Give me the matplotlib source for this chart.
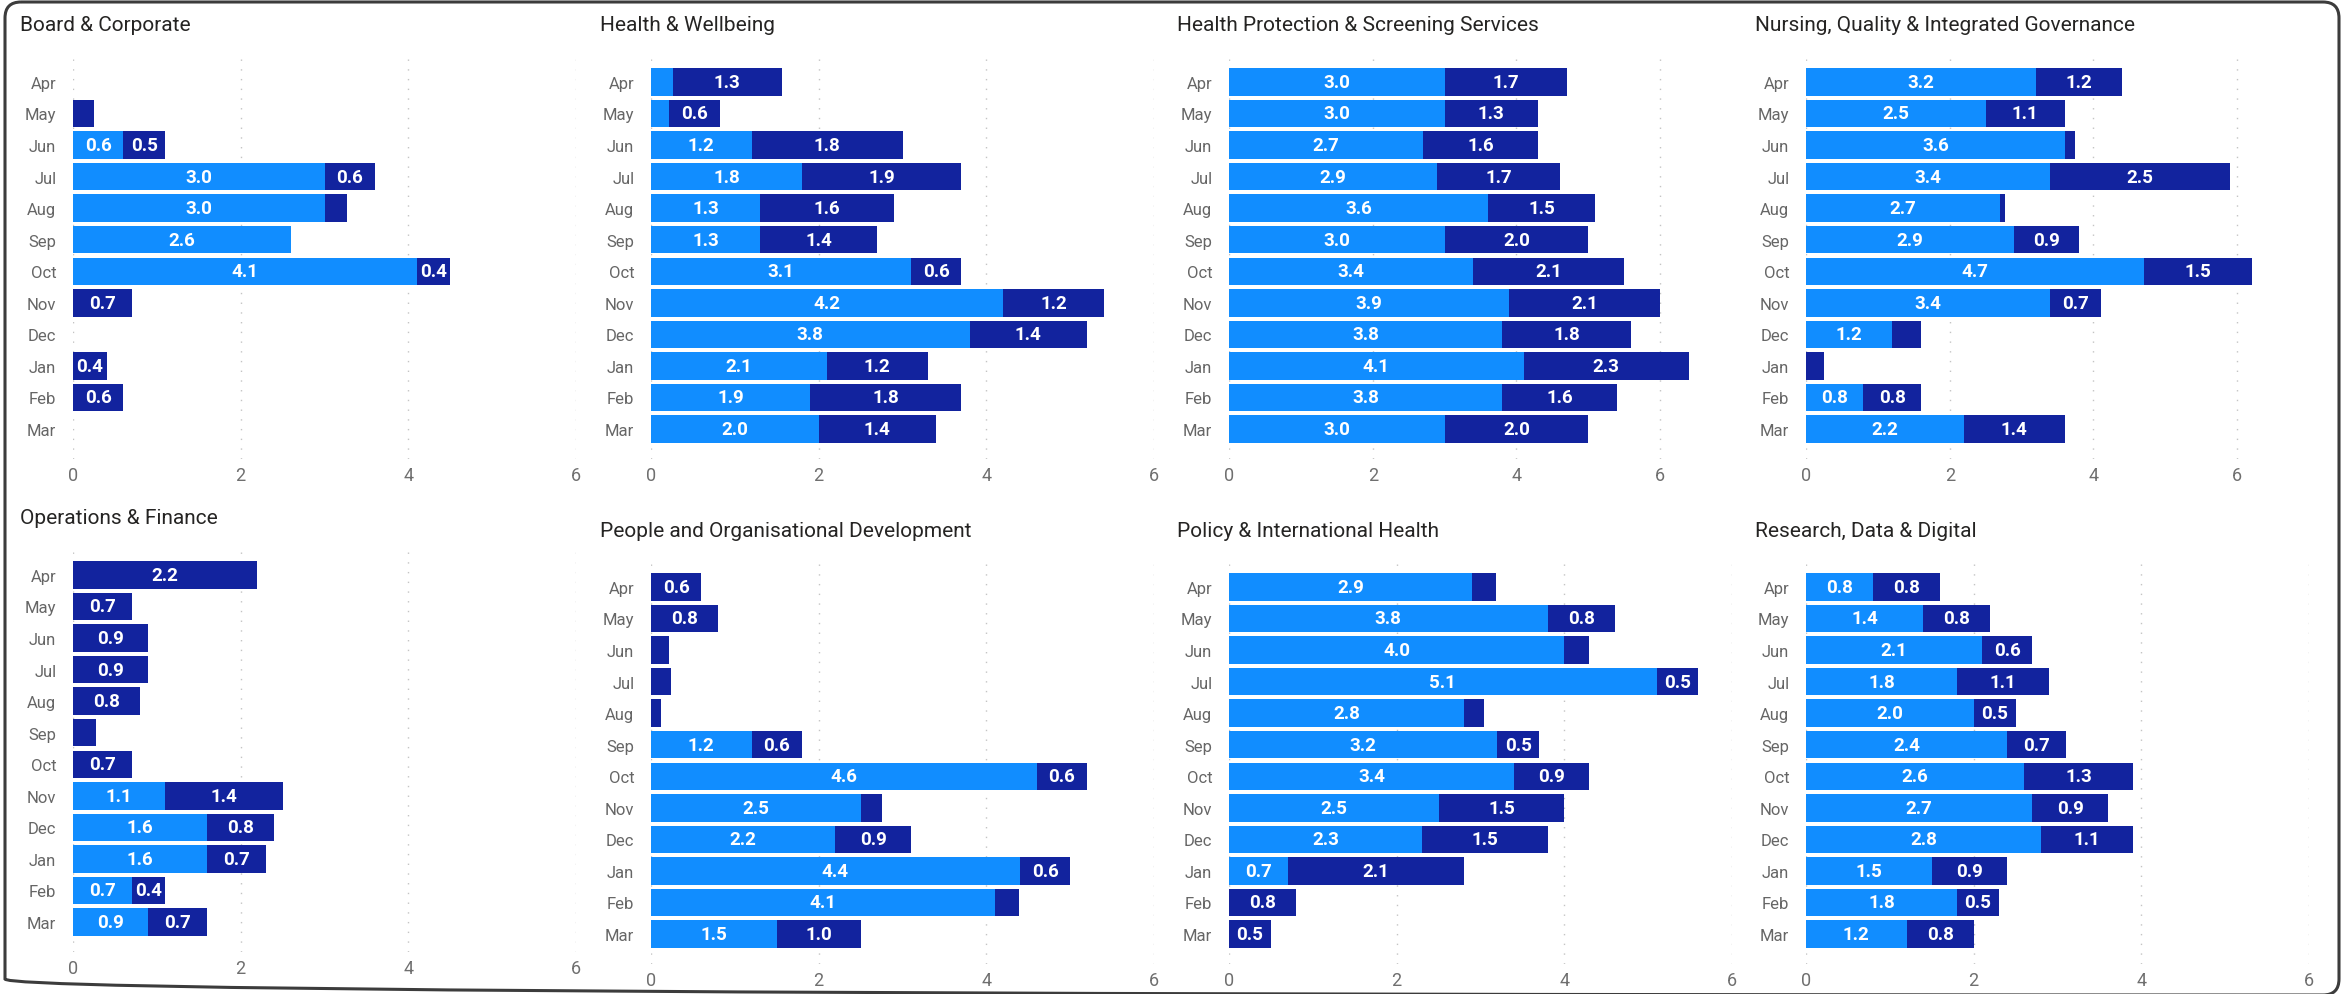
import matplotlib.pyplot as plt
from matplotlib.patches import FancyBboxPatch

plt.rcParams['font.family'] = ['Roboto', 'DejaVu Sans']

W, H = 2341, 995
LIGHT = '#118DFF'
DARK = '#12239E'

months = ['Apr', 'May', 'Jun', 'Jul', 'Aug', 'Sep', 'Oct', 'Nov', 'Dec', 'Jan', 'Feb', 'Mar']
x_ticks = [0, 2, 4, 6]

# light = first series, dark = second series, per month
board_light = [0, 0, 0.6, 3.0, 3.0, 2.6, 4.1, 0, 0, 0, 0, 0]
board_dark = [0, 0.25, 0.5, 0.6, 0.27, 0, 0.4, 0.7, 0, 0.4, 0.6, 0]

wellbeing_light = [0.26, 0.22, 1.2, 1.8, 1.3, 1.3, 3.1, 4.2, 3.8, 2.1, 1.9, 2.0]
wellbeing_dark = [1.3, 0.6, 1.8, 1.9, 1.6, 1.4, 0.6, 1.2, 1.4, 1.2, 1.8, 1.4]

screening_light = [3.0, 3.0, 2.7, 2.9, 3.6, 3.0, 3.4, 3.9, 3.8, 4.1, 3.8, 3.0]
screening_dark = [1.7, 1.3, 1.6, 1.7, 1.5, 2.0, 2.1, 2.1, 1.8, 2.3, 1.6, 2.0]

nursing_light = [3.2, 2.5, 3.6, 3.4, 2.7, 2.9, 4.7, 3.4, 1.2, 0, 0.8, 2.2]
nursing_dark = [1.2, 1.1, 0.15, 2.5, 0.07, 0.9, 1.5, 0.7, 0.4, 0.25, 0.8, 1.4]

ops_light = [0, 0, 0, 0, 0, 0, 0, 1.1, 1.6, 1.6, 0.7, 0.9]
ops_dark = [2.2, 0.7, 0.9, 0.9, 0.8, 0.27, 0.7, 1.4, 0.8, 0.7, 0.4, 0.7]

people_light = [0, 0, 0, 0, 0, 1.2, 4.6, 2.5, 2.2, 4.4, 4.1, 1.5]
people_dark = [0.6, 0.8, 0.21, 0.24, 0.12, 0.6, 0.6, 0.25, 0.9, 0.6, 0.29, 1.0]

policy_light = [2.9, 3.8, 4.0, 5.1, 2.8, 3.2, 3.4, 2.5, 2.3, 0.7, 0, 0]
policy_dark = [0.29, 0.8, 0.29, 0.5, 0.24, 0.5, 0.9, 1.5, 1.5, 2.1, 0.8, 0.5]

research_light = [0.8, 1.4, 2.1, 1.8, 2.0, 2.4, 2.6, 2.7, 2.8, 1.5, 1.8, 1.2]
research_dark = [0.8, 0.8, 0.6, 1.1, 0.5, 0.7, 1.3, 0.9, 1.1, 0.9, 0.5, 0.8]

# title, light, dark, x max, axes left px, axes top px, title left px, title baseline px
panels = [
    ('Board & Corporate', board_light, board_dark, 6, 73, 58, 20, 31),
    ('Health & Wellbeing', wellbeing_light, wellbeing_dark, 6, 651, 58, 600, 31),
    ('Health Protection & Screening Services', screening_light, screening_dark, 7, 1229, 58, 1177, 31),
    ('Nursing, Quality & Integrated Governance', nursing_light, nursing_dark, 7, 1806, 58, 1755, 31),
    ('Operations & Finance', ops_light, ops_dark, 6, 73, 551, 20, 524),
    ('People and Organisational Development', people_light, people_dark, 6, 651, 563, 600, 537),
    ('Policy & International Health', policy_light, policy_dark, 6, 1229, 563, 1177, 537),
    ('Research, Data & Digital', research_light, research_dark, 6, 1806, 563, 1755, 537),
]

AX_W, AX_H = 503, 402

fig = plt.figure(figsize=(W / 100, H / 100), dpi=100, facecolor='white')

# rounded frame around the whole page
frame = fig.add_axes([0, 0, 1, 1])
frame.set_xlim(0, W)
frame.set_ylim(H, 0)
frame.axis('off')
frame.add_patch(FancyBboxPatch((20, 18), W - 37, H - 32,
                               boxstyle='round,pad=15,rounding_size=16',
                               fill=False, edgecolor='#3c3c3c', linewidth=2.2))

for title, light, dark, xmax, left, top, tleft, base in panels:
    ax = fig.add_axes([left / W, 1 - (top + AX_H) / H, AX_W / W, AX_H / H])
    ax.set_facecolor('none')
    y = list(range(len(months)))
    ax.barh(y, light, height=0.87, color=LIGHT, zorder=3)
    ax.barh(y, dark, left=light, height=0.87, color=DARK, zorder=3)

    # value labels only where the segment is wide enough to hold them
    px_per_unit = AX_W / xmax
    for i in y:
        for start, val in ((0, light[i]), (light[i], dark[i])):
            if val * px_per_unit >= 31:
                ax.text(start + val / 2, i, f'{val:.1f}', ha='center', va='center',
                        color='white', fontsize=13.5, fontweight='semibold', zorder=4)

    ax.set_xlim(0, xmax)
    ax.set_ylim(11.95, -0.79)
    ax.set_xticks(x_ticks)
    ax.set_yticks(y)
    ax.set_yticklabels(months)
    ax.tick_params(axis='y', length=0, pad=12, labelsize=12, labelcolor='#666666')
    ax.tick_params(axis='x', length=0, pad=5, labelsize=13, labelcolor='#6f6f6f')
    for xv in x_ticks:
        ax.axvline(xv, color='#c4c4c4', linewidth=1, linestyle=(0, (1, 6)), zorder=1)
    for s in ax.spines.values():
        s.set_visible(False)

    fig.text(tleft / W, 1 - base / H, title, ha='left', va='baseline',
             fontsize=15, color='#252423')

fig.savefig('out.png', dpi=100, facecolor='white')
